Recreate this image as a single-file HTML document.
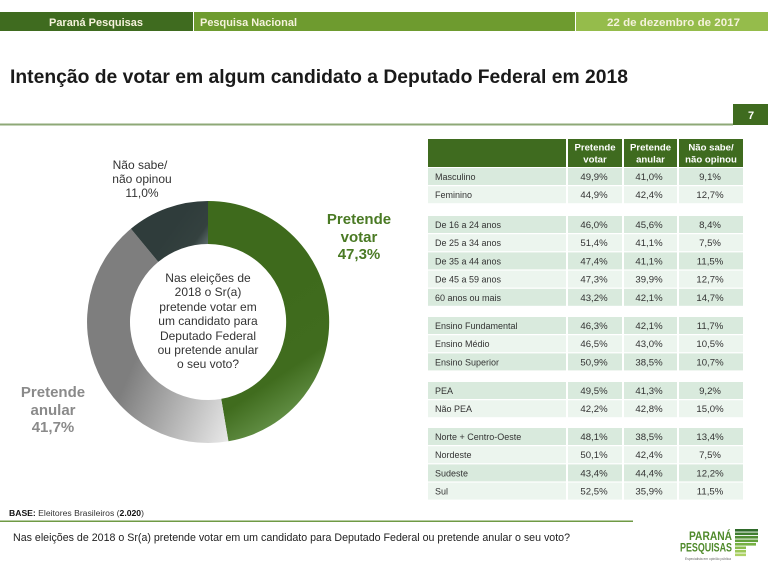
<!DOCTYPE html>
<html>
<head>
<meta charset="utf-8">
<style>
html,body{margin:0;padding:0;background:#fff;}
svg{display:block;}
text{font-family:"Liberation Sans",Arial,sans-serif;}
</style>
</head>
<body>
<svg width="768" height="566" viewBox="0 0 768 566" xmlns="http://www.w3.org/2000/svg">
<defs>
<linearGradient id="gGreen" gradientUnits="userSpaceOnUse" x1="250" y1="300" x2="330" y2="420">
<stop offset="0" stop-color="#3e6a1c"/>
<stop offset="0.55" stop-color="#406c1e"/>
<stop offset="1" stop-color="#78a55e"/>
</linearGradient>
<linearGradient id="gGray" gradientUnits="userSpaceOnUse" x1="120" y1="395" x2="226" y2="440">
<stop offset="0" stop-color="#7e7e7e"/>
<stop offset="1" stop-color="#e6e6e6"/>
</linearGradient>
<linearGradient id="gDark" gradientUnits="userSpaceOnUse" x1="175" y1="225" x2="210" y2="250">
<stop offset="0" stop-color="#2f3c3b"/>
<stop offset="0.6" stop-color="#34413f"/>
<stop offset="1" stop-color="#6f7f7f"/>
</linearGradient>
</defs>

<!-- Header bar -->
<rect x="0" y="12" width="193" height="19" fill="#3f6b1f"/>
<rect x="194" y="12" width="381" height="19" fill="#6e9b2f"/>
<rect x="576" y="12" width="192" height="19" fill="#95bc4b"/>
<text x="96" y="26" text-anchor="middle" font-size="11" font-weight="bold" fill="#f5f2dc" textLength="94" lengthAdjust="spacingAndGlyphs">Paraná Pesquisas</text>
<text x="200" y="26" font-size="11" font-weight="bold" fill="#f5f2dc" textLength="97" lengthAdjust="spacingAndGlyphs">Pesquisa Nacional</text>
<text x="607" y="26" font-size="11" font-weight="bold" fill="#f5f2dc" textLength="133" lengthAdjust="spacingAndGlyphs">22 de dezembro de 2017</text>

<!-- Title -->
<text x="10" y="83" font-size="19" font-weight="bold" fill="#1a1a1a" textLength="618" lengthAdjust="spacingAndGlyphs">Intenção de votar em algum candidato a Deputado Federal em 2018</text>

<!-- Rule and page number -->
<rect x="0" y="123.5" width="733" height="2" fill="#8ea877"/>
<rect x="733" y="104" width="35" height="21" fill="#3f6b1f"/>
<text x="751" y="119" text-anchor="middle" font-size="11" font-weight="bold" fill="#ffffff">7</text>

<!-- Donut -->
<path d="M208,201 A121,121 0 0 1 228.4,441.3 L221.2,398.9 A78,78 0 0 0 208,244 Z" fill="url(#gGreen)"/>
<path d="M228.4,441.3 A121,121 0 0 1 130.9,228.8 L158.3,261.9 A78,78 0 0 0 221.2,398.9 Z" fill="url(#gGray)"/>
<path d="M130.9,228.8 A121,121 0 0 1 208,201 L208,244 A78,78 0 0 0 158.3,261.9 Z" fill="url(#gDark)"/>

<!-- Center text -->
<g font-size="12" fill="#333" text-anchor="middle">
<text x="208" y="282">Nas eleições de</text>
<text x="208" y="296">2018 o Sr(a)</text>
<text x="208" y="311">pretende votar em</text>
<text x="208" y="325">um candidato para</text>
<text x="208" y="340">Deputado Federal</text>
<text x="208" y="354">ou pretende anular</text>
<text x="208" y="368">o seu voto?</text>
</g>

<!-- Donut labels -->
<g font-size="12" fill="#333" text-anchor="middle">
<text x="140" y="169">Não sabe/</text>
<text x="142" y="183">não opinou</text>
<text x="142" y="197">11,0%</text>
</g>
<g font-size="15" font-weight="bold" fill="#4a7a24" text-anchor="middle">
<text x="359" y="224">Pretende</text>
<text x="359" y="242">votar</text>
<text x="359" y="259">47,3%</text>
</g>
<g font-size="15" font-weight="bold" fill="#8a8a8a" text-anchor="middle">
<text x="53" y="397">Pretende</text>
<text x="53" y="415">anular</text>
<text x="53" y="432">41,7%</text>
</g>

<!-- Table header -->
<rect x="428" y="139" width="138" height="28" fill="#3f6b1f"/>
<rect x="568" y="139" width="54" height="28" fill="#3f6b1f"/>
<rect x="624" y="139" width="53" height="28" fill="#3f6b1f"/>
<rect x="679" y="139" width="64" height="28" fill="#3f6b1f"/>
<g font-size="9.6" font-weight="bold" fill="#ffffff" text-anchor="middle">
<text x="595" y="150.5">Pretende</text>
<text x="595" y="162.5">votar</text>
<text x="650.5" y="150.5">Pretende</text>
<text x="650.5" y="162.5">anular</text>
<text x="711" y="150.5">Não sabe/</text>
<text x="711" y="162.5">não opinou</text>
</g>

<!-- Table rows -->
<g id="rows">
<!-- row helper: dark #d9eadd, light #ecf5ee -->
<g fill="#d9eadd">
<rect x="428" y="168" width="138" height="17"/><rect x="568" y="168" width="54" height="17"/><rect x="624" y="168" width="53" height="17"/><rect x="679" y="168" width="64" height="17"/>
<rect x="428" y="216" width="138" height="17"/><rect x="568" y="216" width="54" height="17"/><rect x="624" y="216" width="53" height="17"/><rect x="679" y="216" width="64" height="17"/>
<rect x="428" y="252.4" width="138" height="17"/><rect x="568" y="252.4" width="54" height="17"/><rect x="624" y="252.4" width="53" height="17"/><rect x="679" y="252.4" width="64" height="17"/>
<rect x="428" y="288.8" width="138" height="17"/><rect x="568" y="288.8" width="54" height="17"/><rect x="624" y="288.8" width="53" height="17"/><rect x="679" y="288.8" width="64" height="17"/>
<rect x="428" y="317" width="138" height="17"/><rect x="568" y="317" width="54" height="17"/><rect x="624" y="317" width="53" height="17"/><rect x="679" y="317" width="64" height="17"/>
<rect x="428" y="353.4" width="138" height="17"/><rect x="568" y="353.4" width="54" height="17"/><rect x="624" y="353.4" width="53" height="17"/><rect x="679" y="353.4" width="64" height="17"/>
<rect x="428" y="382" width="138" height="17"/><rect x="568" y="382" width="54" height="17"/><rect x="624" y="382" width="53" height="17"/><rect x="679" y="382" width="64" height="17"/>
<rect x="428" y="428" width="138" height="17"/><rect x="568" y="428" width="54" height="17"/><rect x="624" y="428" width="53" height="17"/><rect x="679" y="428" width="64" height="17"/>
<rect x="428" y="464.4" width="138" height="17"/><rect x="568" y="464.4" width="54" height="17"/><rect x="624" y="464.4" width="53" height="17"/><rect x="679" y="464.4" width="64" height="17"/>
</g>
<g fill="#ecf5ee">
<rect x="428" y="186.2" width="138" height="17"/><rect x="568" y="186.2" width="54" height="17"/><rect x="624" y="186.2" width="53" height="17"/><rect x="679" y="186.2" width="64" height="17"/>
<rect x="428" y="234.2" width="138" height="17"/><rect x="568" y="234.2" width="54" height="17"/><rect x="624" y="234.2" width="53" height="17"/><rect x="679" y="234.2" width="64" height="17"/>
<rect x="428" y="270.6" width="138" height="17"/><rect x="568" y="270.6" width="54" height="17"/><rect x="624" y="270.6" width="53" height="17"/><rect x="679" y="270.6" width="64" height="17"/>
<rect x="428" y="335.2" width="138" height="17"/><rect x="568" y="335.2" width="54" height="17"/><rect x="624" y="335.2" width="53" height="17"/><rect x="679" y="335.2" width="64" height="17"/>
<rect x="428" y="400.2" width="138" height="17"/><rect x="568" y="400.2" width="54" height="17"/><rect x="624" y="400.2" width="53" height="17"/><rect x="679" y="400.2" width="64" height="17"/>
<rect x="428" y="446.2" width="138" height="17"/><rect x="568" y="446.2" width="54" height="17"/><rect x="624" y="446.2" width="53" height="17"/><rect x="679" y="446.2" width="64" height="17"/>
<rect x="428" y="482.6" width="138" height="17"/><rect x="568" y="482.6" width="54" height="17"/><rect x="624" y="482.6" width="53" height="17"/><rect x="679" y="482.6" width="64" height="17"/>
</g>
</g>

<g font-size="9" fill="#333">
<text x="435" y="180">Masculino</text>
<text x="435" y="198.2">Feminino</text>
<text x="435" y="228">De 16 a 24 anos</text>
<text x="435" y="246.2">De 25 a 34 anos</text>
<text x="435" y="264.4">De 35 a 44 anos</text>
<text x="435" y="282.6">De 45 a 59 anos</text>
<text x="435" y="300.8">60 anos ou mais</text>
<text x="435" y="329">Ensino Fundamental</text>
<text x="435" y="347.2">Ensino Médio</text>
<text x="435" y="365.4">Ensino Superior</text>
<text x="435" y="394">PEA</text>
<text x="435" y="412.2">Não PEA</text>
<text x="435" y="440">Norte + Centro-Oeste</text>
<text x="435" y="458.2">Nordeste</text>
<text x="435" y="476.4">Sudeste</text>
<text x="435" y="494.6">Sul</text>
</g>

<g font-size="9.6" fill="#333" text-anchor="middle">
<text x="594" y="180">49,9%</text><text x="649" y="180">41,0%</text><text x="710" y="180">9,1%</text>
<text x="594" y="198.2">44,9%</text><text x="649" y="198.2">42,4%</text><text x="710" y="198.2">12,7%</text>
<text x="594" y="228">46,0%</text><text x="649" y="228">45,6%</text><text x="710" y="228">8,4%</text>
<text x="594" y="246.2">51,4%</text><text x="649" y="246.2">41,1%</text><text x="710" y="246.2">7,5%</text>
<text x="594" y="264.4">47,4%</text><text x="649" y="264.4">41,1%</text><text x="710" y="264.4">11,5%</text>
<text x="594" y="282.6">47,3%</text><text x="649" y="282.6">39,9%</text><text x="710" y="282.6">12,7%</text>
<text x="594" y="300.8">43,2%</text><text x="649" y="300.8">42,1%</text><text x="710" y="300.8">14,7%</text>
<text x="594" y="329">46,3%</text><text x="649" y="329">42,1%</text><text x="710" y="329">11,7%</text>
<text x="594" y="347.2">46,5%</text><text x="649" y="347.2">43,0%</text><text x="710" y="347.2">10,5%</text>
<text x="594" y="365.4">50,9%</text><text x="649" y="365.4">38,5%</text><text x="710" y="365.4">10,7%</text>
<text x="594" y="394">49,5%</text><text x="649" y="394">41,3%</text><text x="710" y="394">9,2%</text>
<text x="594" y="412.2">42,2%</text><text x="649" y="412.2">42,8%</text><text x="710" y="412.2">15,0%</text>
<text x="594" y="440">48,1%</text><text x="649" y="440">38,5%</text><text x="710" y="440">13,4%</text>
<text x="594" y="458.2">50,1%</text><text x="649" y="458.2">42,4%</text><text x="710" y="458.2">7,5%</text>
<text x="594" y="476.4">43,4%</text><text x="649" y="476.4">44,4%</text><text x="710" y="476.4">12,2%</text>
<text x="594" y="494.6">52,5%</text><text x="649" y="494.6">35,9%</text><text x="710" y="494.6">11,5%</text>
</g>

<!-- Footer -->
<text x="9" y="516" font-size="8" fill="#333" textLength="135" lengthAdjust="spacingAndGlyphs"><tspan font-weight="bold" fill="#111">BASE:</tspan> Eleitores Brasileiros (<tspan font-weight="bold" fill="#111">2.020</tspan>)</text>
<rect x="0" y="520.5" width="633" height="1.5" fill="#6f9a45"/>
<text x="13" y="541" font-size="11" fill="#222" textLength="557" lengthAdjust="spacingAndGlyphs">Nas eleições de 2018 o Sr(a) pretende votar em um candidato para Deputado Federal ou pretende anular o seu voto?</text>

<!-- Logo -->
<text x="732" y="540" text-anchor="end" font-size="12" font-weight="bold" fill="#4f8a2b" textLength="43" lengthAdjust="spacingAndGlyphs">PARANÁ</text>
<text x="732" y="551.5" text-anchor="end" font-size="12" font-weight="bold" fill="#4f8a2b" textLength="52" lengthAdjust="spacingAndGlyphs">PESQUISAS</text>
<text x="731" y="560" text-anchor="end" font-size="3.5" fill="#666" textLength="46" lengthAdjust="spacingAndGlyphs">Especialista em opinião pública</text>
<g>
<rect x="735" y="529" width="23" height="2.6" fill="#2f6a2a"/>
<rect x="735" y="532.5" width="23" height="2.6" fill="#3f7d30"/>
<rect x="735" y="536" width="23" height="2.6" fill="#4f8c33"/>
<rect x="735" y="539.5" width="23" height="2.6" fill="#62a03a"/>
<rect x="735" y="543" width="21" height="2.6" fill="#76b043"/>
<rect x="735" y="546.5" width="11" height="2.6" fill="#8abd4c"/>
<rect x="735" y="550" width="11" height="2.6" fill="#9cc858"/>
<rect x="735" y="553.5" width="11" height="2.6" fill="#aed266"/>
</g>
</svg>
</body>
</html>
